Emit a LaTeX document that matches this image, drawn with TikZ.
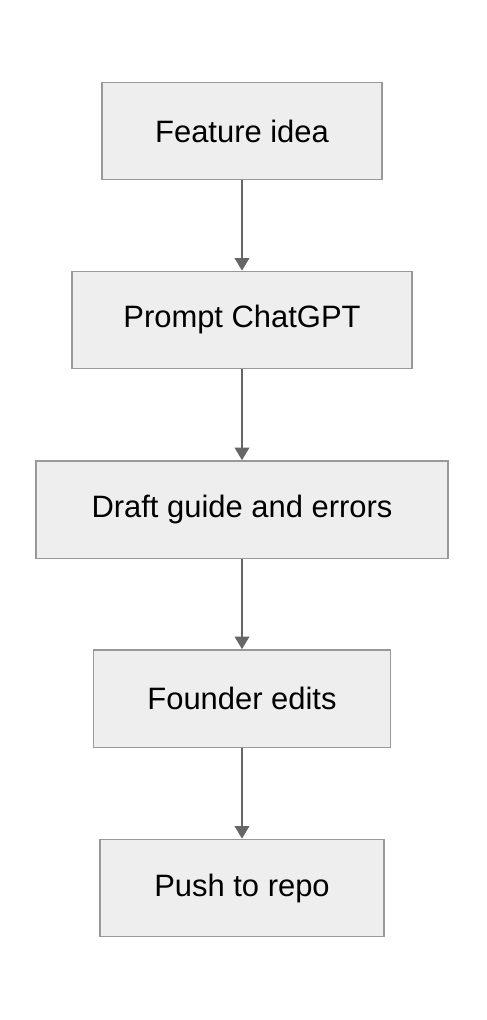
\documentclass[tikz,border=0pt]{standalone}
\usepackage{fontspec}
\setmainfont{Liberation Sans}
\usetikzlibrary{arrows.meta}
\definecolor{boxfill}{HTML}{EEEEEE}
\definecolor{boxline}{HTML}{999999}
\definecolor{arrowgray}{HTML}{666666}
\begin{document}
\begin{tikzpicture}
[   x=0.75pt,y=-0.75pt,
    stepbox/.style={draw=boxline,fill=boxfill,line width=1pt,minimum height=73pt,minimum width=#1,inner sep=0pt,font=\fontsize{23.2}{28}\selectfont},
    flow/.style={draw=arrowgray,line width=1.4pt,-{Triangle[width=11pt,length=9.5pt]}},
]
    \useasboundingbox (0,0) rectangle (486,1020);
    \node[stepbox=210pt] (idea) at (242,131) {Feature idea};
    \node[stepbox=255pt] (prompt) at (242,320) {Prompt ChatGPT};
    \node[stepbox=309pt] (draft) at (242,509.5) {Draft guide and errors};
    \node[stepbox=223pt] (edits) at (242,698.5) {Founder edits};
    \node[stepbox=213pt] (push) at (242,888) {Push to repo};
    \foreach \a/\b in {idea/prompt,prompt/draft,draft/edits,edits/push}
    {   \draw[flow] (\a) -- (\b);
    }
\end{tikzpicture}
\end{document}
